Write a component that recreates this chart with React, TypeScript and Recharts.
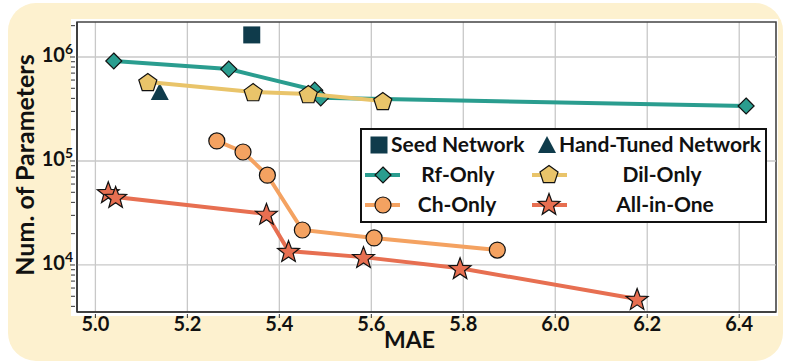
import React from 'react';
import {
  ComposedChart,
  Scatter,
  XAxis,
  YAxis,
  CartesianGrid,
  ReferenceLine,
  ReferenceArea
} from 'recharts';

// values (MAE vs. parameter count, log scale)
const seedMae = [5.34];
const seedParams = [1.63e6];
const handMae = [5.14];
const handParams = [4.5e5];
const rfMae = [5.04, 5.29, 5.477, 5.49, 6.415];
const rfParams = [9.15e5, 7.65e5, 4.8e5, 4.05e5, 3.38e5];
const dilMae = [5.114, 5.343, 5.463, 5.625];
const dilParams = [5.75e5, 4.6e5, 4.4e5, 3.78e5];
const chMae = [5.264, 5.321, 5.374, 5.45, 5.606, 5.874];
const chParams = [1.56e5, 1.22e5, 7.3e4, 2.17e4, 1.82e4, 1.39e4];
const allMae = [5.028, 5.044, 5.372, 5.42, 5.583, 5.793, 6.178];
const allParams = [5.0e4, 4.5e4, 3.1e4, 1.36e4, 1.19e4, 9.3e3, 4.7e3];

const xTicks = [5.0, 5.2, 5.4, 5.6, 5.8, 6.0, 6.2, 6.4];
const majorTicks = [1e4, 1e5, 1e6];
const minorTicks = [4e3, 5e3, 6e3, 7e3, 8e3, 9e3, 2e4, 3e4, 4e4, 5e4, 6e4, 7e4, 8e4, 9e4,
  2e5, 3e5, 4e5, 5e5, 6e5, 7e5, 8e5, 9e5, 2e6];

const X_DOMAIN = [4.96, 6.48];
const Y_DOMAIN = [3530, 2.17e6];

const FONT = 'Lato, "Open Sans", sans-serif';
const DARK = '#0f3b4b';
const TEAL = '#2a9d8f';
const GOLD = '#e9c46a';
const ORANGE = '#f4a261';
const RED = '#e76f51';

const zip = (xs: number[], ys: number[]) => xs.map((x, i) => ({ mae: x, params: ys[i] }));

const starPath = (cx: number, cy: number, R: number, r: number) => {
  let d = '';
  for (let i = 0; i < 10; i++) {
    const a = -Math.PI / 2 + (i * Math.PI) / 5;
    const rad = i % 2 === 0 ? R : r;
    d += (i === 0 ? 'M' : 'L') + (cx + rad * Math.cos(a)).toFixed(2) + ',' + (cy + rad * Math.sin(a)).toFixed(2);
  }
  return d + 'Z';
};

const pentPath = (cx: number, cy: number, R: number) => {
  let d = '';
  for (let i = 0; i < 5; i++) {
    const a = -Math.PI / 2 + (i * 2 * Math.PI) / 5;
    d += (i === 0 ? 'M' : 'L') + (cx + R * Math.cos(a)).toFixed(2) + ',' + (cy + R * Math.sin(a)).toFixed(2);
  }
  return d + 'Z';
};

const Marker = ({ kind, cx, cy }: { kind: string; cx: number; cy: number }) => {
  const st = { stroke: '#111', strokeWidth: 1.2 };
  if (kind === 'square') return <rect x={cx - 8.5} y={cy - 8.5} width={17} height={17} fill={DARK} />;
  if (kind === 'triangle')
    return <path d={`M${cx},${cy - 10} L${cx + 9},${cy + 7} L${cx - 9},${cy + 7} Z`} fill={DARK} />;
  if (kind === 'diamond')
    return <path d={`M${cx},${cy - 8} L${cx + 8},${cy} L${cx},${cy + 8} L${cx - 8},${cy} Z`} fill={TEAL} {...st} />;
  if (kind === 'pentagon') return <path d={pentPath(cx, cy + 1, 9.5)} fill={GOLD} {...st} />;
  if (kind === 'circle') return <circle cx={cx} cy={cy} r={8} fill={ORANGE} {...st} />;
  return <path d={starPath(cx, cy + 1, 11.5, 4.8)} fill={RED} {...st} />;
};

const shapeOf = (kind: string) => (p: any) => <Marker kind={kind} cx={p.cx} cy={p.cy} />;

const YTick = (props: any) => {
  const { x, y, payload } = props;
  const v = payload.value;
  const isMajor = majorTicks.some(m => Math.abs(m - v) < 1e-6 * m);
  if (!isMajor) return <line x1={x - 4} x2={x} y1={y} y2={y} stroke="#333" strokeWidth={1} />;
  const exp = Math.round(Math.log10(v));
  return (
    <g>
      <line x1={x - 5} x2={x} y1={y} y2={y} stroke="#333" strokeWidth={1} />
      <text x={x - 2} y={y + 5} textAnchor="end" fontFamily={FONT} fontWeight={700} fontSize={20} fill="#111">
        <tspan>10</tspan>
        <tspan dy={-8} fontSize={14}>{exp}</tspan>
      </text>
    </g>
  );
};

const XTick = (props: any) => {
  const { x, y, payload } = props;
  return (
    <g>
      <line x1={x} x2={x} y1={y} y2={y + 4} stroke="#333" strokeWidth={1} />
      <text x={x} y={y + 17} textAnchor="middle" fontFamily={FONT} fontWeight={700} fontSize={20} fill="#111">
        {payload.value.toFixed(1)}
      </text>
    </g>
  );
};

const LegendBox = () => {
  const txt = { fontFamily: FONT, fontWeight: 700, fontSize: 21, fill: '#111' } as const;
  return (
    <svg width={407} height={95} style={{ display: 'block' }}>
      <rect x={1} y={1} width={405} height={93} fill="#fff" stroke="#111" strokeWidth={2} />
      <Marker kind="square" cx={19} cy={17} />
      <text x={31} y={24} {...txt}>Seed Network</text>
      <Marker kind="triangle" cx={187} cy={18} />
      <text x={199} y={24} {...txt}>Hand-Tuned Network</text>

      <line x1={5} x2={40} y1={47} y2={47} stroke={TEAL} strokeWidth={4} />
      <Marker kind="diamond" cx={23} cy={47} />
      <text x={98} y={54} textAnchor="middle" {...txt}>Rf-Only</text>
      <line x1={172} x2={207} y1={47} y2={47} stroke={GOLD} strokeWidth={4} />
      <Marker kind="pentagon" cx={189} cy={46} />
      <text x={302} y={54} textAnchor="middle" {...txt}>Dil-Only</text>

      <line x1={5} x2={40} y1={77} y2={77} stroke={ORANGE} strokeWidth={4} />
      <Marker kind="circle" cx={23} cy={77} />
      <text x={97} y={84} textAnchor="middle" {...txt}>Ch-Only</text>
      <line x1={172} x2={207} y1={77} y2={77} stroke={RED} strokeWidth={4} />
      <Marker kind="star" cx={189} cy={76} />
      <text x={305} y={84} textAnchor="middle" {...txt}>All-in-One</text>
    </svg>
  );
};

export default function App() {
  return (
    <div style={{ position: 'absolute', left: 0, top: 0, width: 785, height: 362, background: '#fff', overflow: 'hidden' }}>
      <div style={{ position: 'absolute', left: 8, top: 3, width: 775, height: 358, background: '#fdf1cf', borderRadius: 28 }} />
      <div style={{ position: 'absolute', left: 71, top: 19, width: 707, height: 297, background: '#fff' }} />
      <div style={{ position: 'absolute', left: 0, top: 0 }}>
        <ComposedChart width={785} height={362} margin={{ top: 22, right: 9, bottom: 0, left: 0 }}>
          <CartesianGrid horizontal={false} stroke="#c8c8c8" strokeWidth={1.3} />
          <XAxis
            type="number"
            dataKey="mae"
            domain={X_DOMAIN}
            ticks={xTicks}
            interval={0}
            allowDataOverflow
            height={50}
            tickLine={false}
            tickSize={0}
            tick={<XTick />}
            axisLine={{ stroke: '#333', strokeWidth: 1.5 }}
            label={{ value: 'MAE', position: 'insideBottom', dx: -17, dy: -9, style: { fontFamily: FONT, fontWeight: 700, fontSize: 23, fill: '#111' } }}
          />
          <YAxis
            type="number"
            dataKey="params"
            scale="log"
            domain={Y_DOMAIN}
            ticks={[...majorTicks, ...minorTicks]}
            interval={0}
            allowDataOverflow
            width={77}
            tickLine={false}
            tickSize={0}
            tick={<YTick />}
            axisLine={{ stroke: '#333', strokeWidth: 1.5 }}
            label={{ value: 'Num. of Parameters', angle: -90, position: 'insideLeft', dx: 20, dy: -2, style: { textAnchor: 'middle', fontFamily: FONT, fontWeight: 700, fontSize: 25, fill: '#111' } }}
          />
          {majorTicks.map(t => (
            <ReferenceLine key={t} y={t} stroke="#c8c8c8" strokeWidth={1.3} />
          ))}
          <ReferenceArea x1={X_DOMAIN[0]} x2={X_DOMAIN[1]} y1={Y_DOMAIN[0]} y2={Y_DOMAIN[1]} fill="none" stroke="#444" strokeWidth={1.5} />
          <Scatter data={zip(seedMae, seedParams)} shape={shapeOf('square')} isAnimationActive={false} />
          <Scatter data={zip(handMae, handParams)} shape={shapeOf('triangle')} isAnimationActive={false} />
          <Scatter data={zip(rfMae, rfParams)} line={{ stroke: TEAL, strokeWidth: 4 }} lineType="joint" shape={shapeOf('diamond')} isAnimationActive={false} />
          <Scatter data={zip(dilMae, dilParams)} line={{ stroke: GOLD, strokeWidth: 4 }} lineType="joint" shape={shapeOf('pentagon')} isAnimationActive={false} />
          <Scatter data={zip(chMae, chParams)} line={{ stroke: ORANGE, strokeWidth: 4 }} lineType="joint" shape={shapeOf('circle')} isAnimationActive={false} />
          <Scatter data={zip(allMae, allParams)} line={{ stroke: RED, strokeWidth: 4 }} lineType="joint" shape={shapeOf('star')} isAnimationActive={false} />
        </ComposedChart>
      </div>
      <div style={{ position: 'absolute', left: 360, top: 128 }}>
        <LegendBox />
      </div>
    </div>
  );
}
